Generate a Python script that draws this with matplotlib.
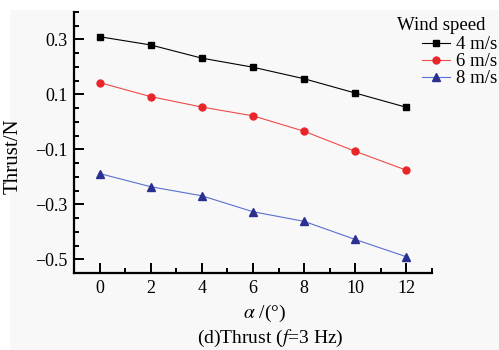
import matplotlib.pyplot as plt
from matplotlib.patches import Rectangle
from matplotlib.ticker import MultipleLocator, FixedLocator

plt.rcParams['font.family'] = ['Liberation Serif', 'DejaVu Serif']
plt.rcParams['mathtext.fontset'] = 'stix'

alpha = [0, 2, 4, 6, 8, 10, 12]
thrust_4 = [0.310, 0.280, 0.232, 0.199, 0.157, 0.105, 0.053]
thrust_6 = [0.143, 0.092, 0.054, 0.022, -0.034, -0.107, -0.176]
thrust_8 = [-0.188, -0.236, -0.269, -0.327, -0.362, -0.428, -0.491]
labels = ['4 m/s', '6 m/s', '8 m/s']
yticks = [0.3, 0.1, -0.1, -0.3, -0.5]
yticklabels = ['0.3', '0.1', '\u22120.1', '\u22120.3', '\u22120.5']

fig = plt.figure(figsize=(4.99, 3.5), dpi=100, facecolor='white')
fig.patches.append(Rectangle((10 / 499, 0), 1, 340 / 350, transform=fig.transFigure,
                             facecolor='#f8f8f8', edgecolor='none', zorder=-10))

ax = fig.add_axes([74 / 499, 1 - 273 / 350, (432 - 74) / 499, (273 - 12) / 350])
ax.set_facecolor('none')

ax.plot(alpha, thrust_4, color='black', lw=0.8, marker='s', ms=4.5, label=labels[0])
ax.plot(alpha, thrust_6, color='#f04a4a', lw=0.8, marker='o', ms=5,
        mfc='#e8262a', mec='#e8262a', label=labels[1])
ax.plot(alpha, thrust_8, color='#5a6fd0', lw=0.8, marker='^', ms=5.5,
        mfc='#2b2f8f', mec='#2b2f8f', label=labels[2])

ax.set_xlim(-1, 13)
ax.set_ylim(-0.55, 0.4)
ax.xaxis.set_major_locator(FixedLocator(alpha))
ax.xaxis.set_minor_locator(FixedLocator([1, 3, 5, 7, 9, 11, 13]))
ax.yaxis.set_major_locator(FixedLocator(yticks))
ax.yaxis.set_minor_locator(MultipleLocator(0.05))
ax.set_yticklabels(yticklabels)

for s in ['top', 'right']:
    ax.spines[s].set_visible(False)
for s in ['left', 'bottom']:
    ax.spines[s].set_linewidth(1.6)

ax.tick_params(which='major', direction='in', length=7, width=1.4, labelsize=13)
ax.tick_params(which='minor', direction='in', length=3.5, width=1.4)
ax.tick_params(axis='y', pad=4.5)
ax.tick_params(axis='x', pad=5)

ax.set_xlabel(r'$\alpha$ /(°)', fontsize=14)
ax.xaxis.set_label_coords((265 - 74) / 358, 1 - (313 - 12) / 261)
ax.xaxis.label.set_va('center')
ax.set_ylabel('Thrust/N', fontsize=15)
ax.yaxis.set_label_coords((13 - 74) / 358, 1 - (156 - 12) / 261)
ax.yaxis.label.set_va('center')
fig.text(270 / 499, 1 - 338 / 350, r'(d)Thrust ($f$=3 Hz)', ha='center', va='center',
         fontsize=14)

# legend title drawn on its own, entries placed below it
fig.text(441 / 499, 1 - 25 / 350, 'Wind speed', ha='center', va='center', fontsize=13.5)
ax.legend(loc='upper left', bbox_to_anchor=(422 / 499, 1 - 36 / 350),
          bbox_transform=fig.transFigure, frameon=False, fontsize=13.5,
          handlelength=1.5, handletextpad=0.3, labelspacing=0.0,
          borderpad=0, borderaxespad=0)

fig.savefig('out.png', dpi=100, facecolor=fig.get_facecolor())
